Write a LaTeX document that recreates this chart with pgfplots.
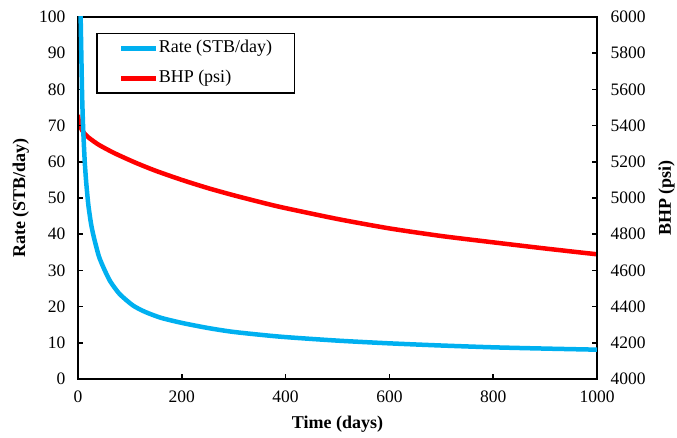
\documentclass[border=0pt]{standalone}
\usepackage{fontspec}
\setmainfont{Liberation Serif}
\usepackage{pgfplots}
\pgfplotsset{compat=1.18}
\definecolor{rateblue}{HTML}{00B0F0}
\definecolor{bhpred}{HTML}{FF0000}
\begin{document}
\begin{tikzpicture}
\pgfplotsset{
  common/.style={
    scale only axis, width=519bp, height=362bp,
    xmin=0, xmax=1000,
    /pgf/number format/assume math mode=true,
    /pgf/number format/1000 sep={},
    xticklabel={\pgfmathparse{int(round(\tick))}\pgfmathresult},
    yticklabel={\pgfmathparse{int(round(\tick))}\pgfmathresult},
    tick label style={font=\fontsize{17.5bp}{20bp}\selectfont, text=black},
    label style={font=\fontsize{18bp}{21bp}\selectfont\bfseries},
    axis line style={line width=1.5bp, black},
    major tick style={line width=1.5bp, black},
    major tick length=5bp,
    tick align=inside,
  }
}
% BHP axis (right)
\begin{axis}[common,
  axis x line=none, axis y line*=right,
  ymin=4000, ymax=6000, ytick={4000,4200,...,6000},
  yticklabel style={xshift=10bp},
  ylabel={BHP (psi)},
  ylabel style={at={(axis description cs:1.134,0.5)}, anchor=center},
]
\addplot[bhpred, line width=4.5bp, line join=round, smooth, tension=0.4] coordinates {
(0,5460) (1,5435) (3,5408) (6,5385) (10,5365) (20,5335) (40,5294) (70,5248)
(110,5196) (150,5150) (200,5100) (250,5055) (300,5015) (364,4968) (400,4944)
(500,4884) (600,4832) (700,4790) (800,4755) (900,4721) (1000,4689)
};
\end{axis}
% Rate axis (left)
\begin{axis}[common,
  xtick pos=bottom, ytick pos=left,
  ymin=0, ymax=100, ytick={0,10,...,100},
  xtick={0,200,...,1000},
  yticklabel style={xshift=-9bp},
  xticklabel style={yshift=-8bp},
  xlabel={Time (days)},
  ylabel={Rate (STB/day)},
  xlabel style={at={(axis description cs:0.5,-0.124)}, anchor=center},
  ylabel style={at={(axis description cs:-0.11,0.5)}, anchor=center},
  legend image code/.code={\draw[#1, line width=4.5bp] (0bp,0bp) -- (35bp,0bp);},
  legend cell align=left,
  legend style={at={(0.0347,0.956)}, anchor=north west, draw=black, line width=1.5bp,
    font=\fontsize{18bp}{21bp}\selectfont, inner xsep=22bp, inner ysep=6bp,
    row sep=13bp, column sep=0bp,
    nodes={inner sep=0.5bp, text height=12.6bp, text depth=3.6bp}},
]
\coordinate (bl) at (rel axis cs:0,0);
\coordinate (tr) at (rel axis cs:1,1);
\addplot[rateblue, line width=4.5bp, line join=round, smooth, tension=0.4] coordinates {
(4.5,104) (5.2,99) (6.5,89) (8,78) (10,69) (13,60) (16,54) (20,48) (25,43)
(30,39.5) (40,34) (50,30.5) (62,27) (80,23.5) (106,20.3) (130,18.5) (160,16.9)
(200,15.5) (250,14.1) (300,13.0) (389,11.7) (500,10.6) (600,9.85) (700,9.25)
(800,8.75) (900,8.4) (1000,8.1)
};
\addlegendentry{Rate (STB/day)}
\addlegendimage{bhpred}
\addlegendentry{BHP (psi)}
\end{axis}
\pgfresetboundingbox
\path[use as bounding box] ([xshift=-78bp,yshift=-59bp]bl) rectangle ([xshift=80bp,yshift=17bp]tr);
\end{tikzpicture}
\end{document}
